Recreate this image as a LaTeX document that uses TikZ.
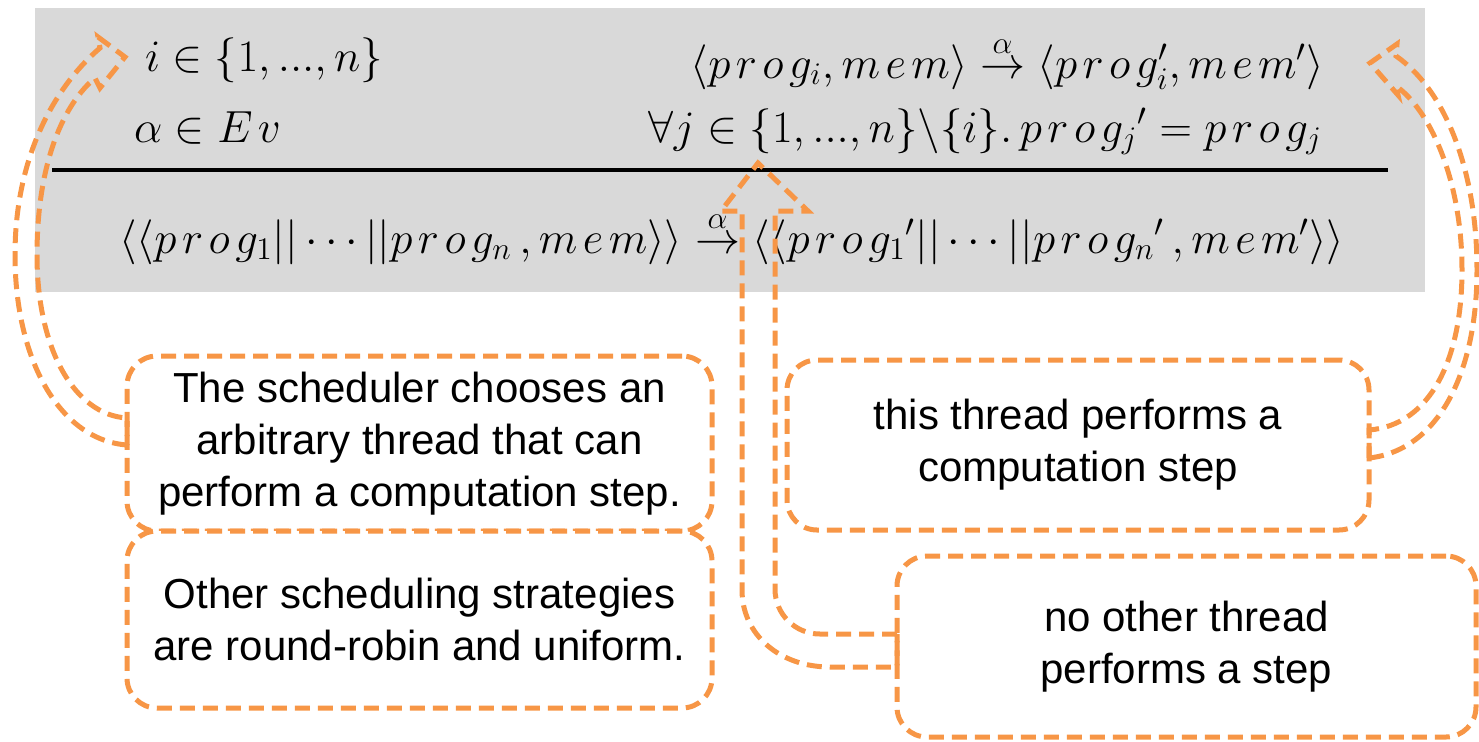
\RequirePackage{fix-cm}
\documentclass[tikz,border=0pt]{standalone}
\usepackage{amsmath}
\usepackage{fontspec}
\setsansfont{Liberation Sans}
\definecolor{accent}{HTML}{F79646}
\definecolor{panel}{HTML}{D9D9D9}
% spaced identifiers, in the manner of the original equation editor
\newcommand{\prg}{p\mkern2.2mu r\mkern2.2mu o\mkern2.2mu g}
\newcommand{\mem}{m\mkern2.2mu e\mkern2.2mu m}
\newcommand{\tdots}{{.}{.}{.}}
\tikzset{
  dashline/.style={draw=accent, line width=2.5pt, dash pattern=on 7.5pt off 4pt, line join=miter},
  note/.style={dashline, rounded corners=15pt, fill=white, align=center,
    inner sep=0pt, outer sep=0pt,
    font=\sffamily\fontsize{21}{26}\selectfont},
  mathtxt/.style={inner sep=0pt, outer sep=0pt, font=\fontsize{22.5}{26}\selectfont},
}
\begin{document}
\begin{tikzpicture}[x=0.5pt, y=-0.5pt]
\useasboundingbox (0,0) rectangle (1479,741);

% inference rule panel
\fill[panel] (35,8) rectangle (1425,292);
\coordinate (barL) at (52,170);
\coordinate (barR) at (1388,170);
\draw[line width=2pt] (barL) -- (barR);

\node[mathtxt, anchor=base west] (pidx) at (145,71) {$i \in \{1, \tdots, n\}$};
\node[mathtxt, anchor=base west] (pev) at (134,142) {$\alpha \in E\mkern2.2mu v$};
\node[mathtxt, anchor=base east] (pstep) at (1324,78)
  {$\langle \prg_i, \mem\rangle \stackrel{\alpha}{\rightarrow} \langle \prg'_i, \mem'\rangle$};
\node[mathtxt, anchor=base east] (pother) at (1322,142)
  {$\forall j \in \{1, \tdots, n\}\backslash\{i\}.\, \prg_j{}' = \prg_j$};
\node[mathtxt, anchor=base] (concl) at (732,253)
  {$\langle\langle \prg_1 || \cdots || \prg_n\, , \mem\rangle\rangle \stackrel{\alpha}{\rightarrow} \langle\langle \prg_1{}' || \cdots || \prg_n{}'\, , \mem'\rangle\rangle$};

% explanatory notes
\node[note, minimum width=292.5pt, minimum height=87.5pt] (noteA) at (419.5,443.5)
  {The scheduler chooses an\\arbitrary thread that can\\perform a computation step.};
\node[note, minimum width=292.5pt, minimum height=88.5pt] (noteB) at (419.5,619.5)
  {Other scheduling strategies\\are round-robin and uniform.};
\node[note, minimum width=291pt, minimum height=85pt] (noteC) at (1078,445)
  {this thread performs a\\computation step};
\node[note, minimum width=289.5pt, minimum height=90.5pt] (noteD) at (1186.5,646.5)
  {no other thread\\performs a step};

% curved block arrow: scheduler note -> thread index
\draw[dashline] (noteA.west |- 0,445) .. controls (60,440) and (15,360) .. (15,255)
  .. controls (15,150) and (60,82) .. (100,48)
  -- (98,37) -- (125,57) -- (100,88) -- (95,78)
  .. controls (65,103) and (37,160) .. (37,255)
  .. controls (37,350) and (75,415) .. (noteA.west |- 0,418) -- cycle;

% curved block arrow: step note -> premise
\draw[dashline] (noteC.east |- 0,458) .. controls (1440,450) and (1477,370) .. (1477,270)
  .. controls (1477,170) and (1445,90) .. (1396,56)
  -- (1397,44) -- (1370,63) -- (1398,95) -- (1396,86)
  .. controls (1430,110) and (1462,180) .. (1462,270)
  .. controls (1462,360) and (1430,425) .. (noteC.east |- 0,430) -- cycle;

% bent-up block arrow: other threads note -> conclusion
\draw[dashline] (noteD.west |- 0,634) -- (820,634)
  .. controls (795,634) and (775,614) .. (775,589)
  -- (775,211) -- (808,211) -- (758,163) -- (721,211) -- (742,211)
  -- (742,590) .. controls (742,635) and (780,667) .. (830,667)
  -- (noteD.west |- 0,667) -- cycle;
\end{tikzpicture}
\end{document}
